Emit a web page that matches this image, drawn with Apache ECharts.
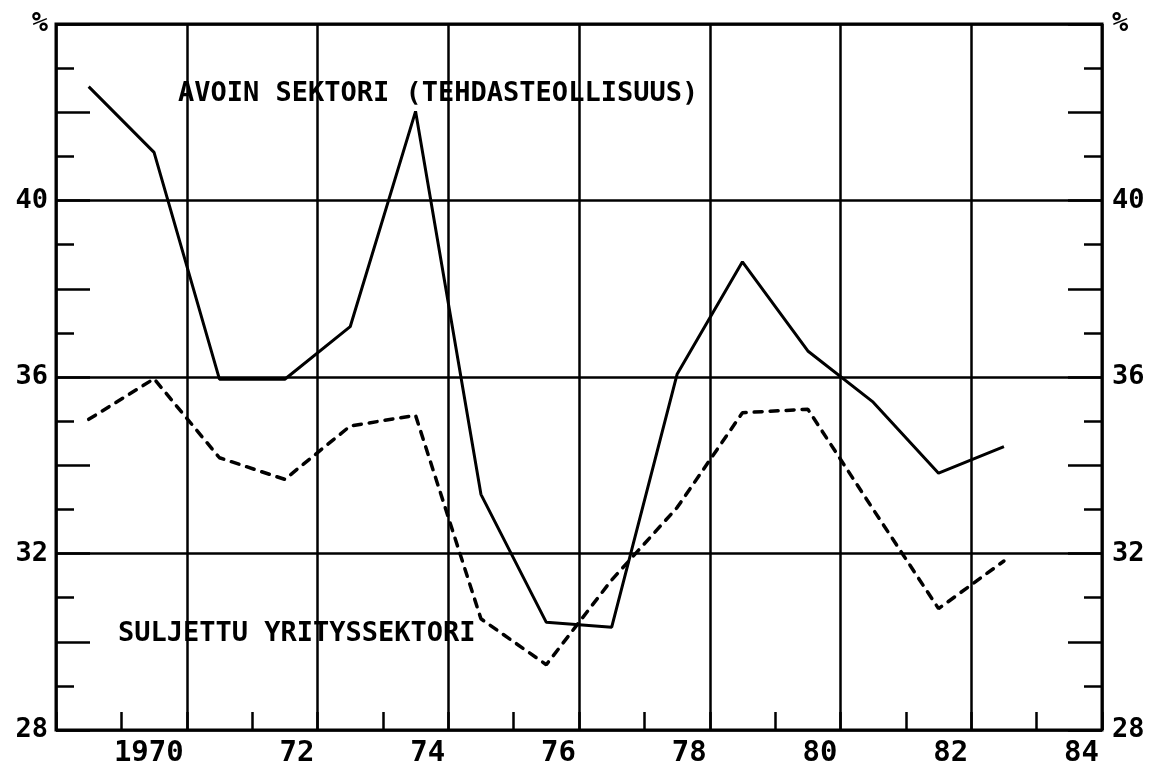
<!DOCTYPE html>
<html>
<head>
<meta charset="utf-8">
<script src="https://cdn.jsdelivr.net/npm/echarts@6/dist/echarts.min.js"></script>
<style>
  html, body { margin: 0; padding: 0; background: #ffffff; }
  #chart { width: 1154px; height: 768px; }
</style>
</head>
<body>
<div id="chart"></div>
<script>
// ---- data ----
const years = [1969, 1970, 1971, 1972, 1973, 1974, 1975, 1976, 1977, 1978, 1979, 1980, 1981, 1982, 1983];
const avoinSektori = [42.58, 41.09, 35.95, 35.95, 37.14, 42.02, 33.34, 30.44, 30.33, 36.06, 38.61, 36.59, 35.43, 33.82, 34.42];
const suljettuSektori = [35.04, 35.96, 34.17, 33.68, 34.89, 35.13, 30.52, 29.48, 31.4, 33.04, 35.19, 35.27, 33.0, 30.75, 31.83];
const xTickLabels = ['1970', '72', '74', '76', '78', '80', '82', '84'];
const yTickValues = [28, 32, 36, 40, 44];
const yTickLabels = ['28', '32', '36', '40', '%'];
const labelAvoin = 'AVOIN SEKTORI (TEHDASTEOLLISUUS)';
const labelSuljettu = 'SULJETTU YRITYSSEKTORI';

// ---- build ----
const FONT = 'DejaVu Sans Mono';
const INK = '#000000';
const LW = 2.5;
const yFmt = v => { const i = yTickValues.indexOf(v); return i >= 0 ? yTickLabels[i] : ''; };
const toSeries = vals => years.map((y, i) => [y + 0.5, vals[i]]); // annual values plotted at mid-year

const chart = echarts.init(document.getElementById('chart'), null, { renderer: 'canvas' });

const yBase = {
  type: 'value', min: 28, max: 44, interval: 4,
  axisLine: { show: false },
  axisTick: { show: true, inside: true, length: 18, lineStyle: { color: INK, width: LW } },
  minorTick: { show: true, splitNumber: 4, length: 18, lineStyle: { color: INK, width: LW } },
  axisLabel: { show: true, formatter: yFmt, color: INK, fontFamily: FONT, fontSize: 27, fontWeight: 'bold' },
};
const yLong = {
  type: 'value', min: 28, max: 44, interval: 2,
  axisLine: { show: false },
  axisTick: { show: true, inside: true, length: 34, lineStyle: { color: INK, width: LW } },
  axisLabel: { show: false },
  splitLine: { show: false },
};

chart.setOption({
  animation: false,
  backgroundColor: '#ffffff',
  grid: { left: 56, right: 52, top: 24, bottom: 37, show: true, borderColor: INK, borderWidth: 3, backgroundColor: 'transparent' },
  xAxis: [
    {
      // year axis carrying the data; tick marks at each year boundary
      type: 'value', min: 1969, max: 1985, interval: 1, position: 'bottom',
      axisLine: { show: false },
      axisTick: { show: true, inside: true, length: 18, lineStyle: { color: INK, width: LW } },
      axisLabel: { show: false },
      splitLine: { show: false },
    },
    {
      // decoration axis in years since 1969: grid lines every 2 years, labels right-aligned
      type: 'value', min: 0, max: 16, interval: 2, position: 'bottom',
      axisLine: { show: false },
      axisTick: { show: false },
      splitLine: { show: true, lineStyle: { color: INK, width: LW } },
      axisLabel: {
        show: true, align: 'right', padding: [0, 3, 0, 0], margin: 9,
        color: INK, fontFamily: FONT, fontSize: 29, fontWeight: 'bold',
        formatter: v => (v > 0 ? xTickLabels[v / 2 - 1] : ''),
      },
    },
  ],
  yAxis: [
    Object.assign({}, yBase, { position: 'left', splitLine: { show: true, lineStyle: { color: INK, width: LW } },
      axisLabel: Object.assign({}, yBase.axisLabel, { margin: 8 }) }),
    Object.assign({}, yBase, { position: 'right', splitLine: { show: false },
      axisLabel: Object.assign({}, yBase.axisLabel, { margin: 10 }) }),
    Object.assign({}, yLong, { position: 'left' }),
    Object.assign({}, yLong, { position: 'right' }),
  ],
  series: [
    {
      name: labelAvoin, type: 'line', xAxisIndex: 0, yAxisIndex: 0,
      data: toSeries(avoinSektori), showSymbol: false, symbol: 'none',
      lineStyle: { color: INK, width: 3 }, z: 5,
    },
    {
      name: labelSuljettu, type: 'line', xAxisIndex: 0, yAxisIndex: 0,
      data: toSeries(suljettuSektori), showSymbol: false, symbol: 'none',
      lineStyle: { color: INK, width: 3.5, type: [8, 8], cap: 'round' }, z: 5,
    },
  ],
  graphic: [
    { type: 'text', left: 178, top: 80, z: 10,
      style: { text: labelAvoin, fill: INK, font: 'bold 27px "DejaVu Sans Mono"' } },
    { type: 'text', left: 118, top: 620, z: 10,
      style: { text: labelSuljettu, fill: INK, font: 'bold 27px "DejaVu Sans Mono"' } },
  ],
});
</script>
</body>
</html>
